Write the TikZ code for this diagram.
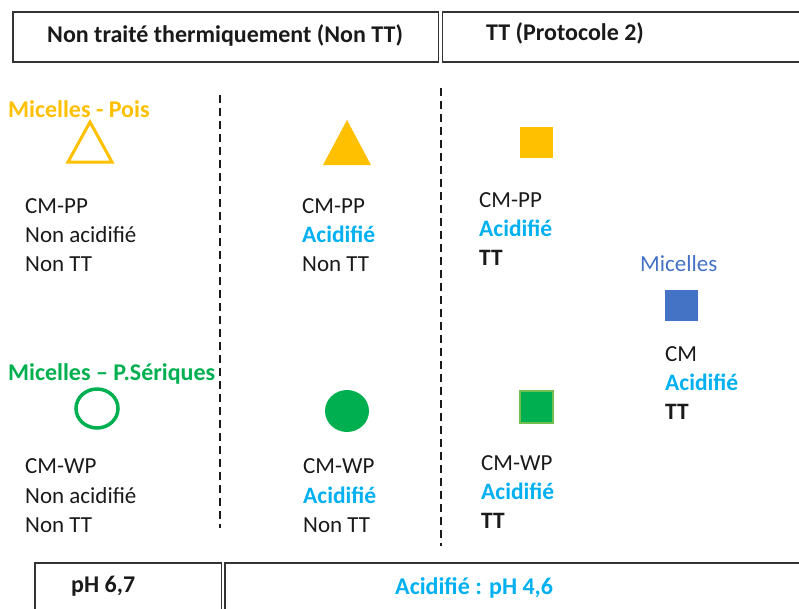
\documentclass[tikz,border=0pt]{standalone}
\usepackage{fontspec}
\setmainfont{Carlito}
\definecolor{orng}{HTML}{FFC000}
\definecolor{grn}{HTML}{00B050}
\definecolor{grnb}{HTML}{70BF50}
\definecolor{cyanb}{HTML}{00B0F0}
\definecolor{blu}{HTML}{4472C4}
\definecolor{txt}{HTML}{1A1A1A}
\definecolor{frame}{HTML}{333333}
\begin{document}
\begin{tikzpicture}[x=1pt,y=-1pt,
  boxl/.style={draw=frame,line width=1.4pt},
  dash line/.style={draw=txt,line width=2.2pt,dash pattern=on 8pt off 5pt},
  body/.style={font=\fontsize{23}{29}\selectfont,text=txt,anchor=base west,inner sep=0pt},
  acid/.style={body,text=cyanb,font=\fontsize{23.5}{29}\selectfont\bfseries},
  bold/.style={body,font=\fontsize{23.5}{29}\selectfont\bfseries},
  head/.style={font=\fontsize{24}{28}\selectfont\bfseries,text=txt,anchor=base west,inner sep=0pt}]
\useasboundingbox (0,0) rectangle (799,608);
% top boxes
\draw[boxl] (13,12) rectangle (438.5,62);
\draw[boxl] (442.5,12) rectangle (805,62);
\node[head] (t1) at (47,42) {Non traité thermiquement (Non TT)};
\node[head] (t2) at (486,40) {TT (Protocole 2)};
% bottom boxes
\draw[boxl] (35,563) rectangle (221.3,615);
\draw[boxl] (225,563) rectangle (805,615);
\node[head] (b1) at (71,592) {pH 6,7};
\node[head,text=cyanb] (b2) at (395,594) {Acidifié : pH 4,6};
% dashed separators
\coordinate (d1a) at (220,95); \coordinate (d1b) at (220,528);
\coordinate (d2a) at (441,88); \coordinate (d2b) at (441,546);
\draw[dash line] (d1a) -- (d1b);
\draw[dash line] (d2a) -- (d2b);
% column 1 top
\node[head,text=orng] (lp) at (8,117) {Micelles - Pois};
\draw[orng,line width=3pt,line join=miter] (90,122) -- (112,162) -- (68,162) -- cycle;
\node[body] (a1) at (25,213) {CM-PP};
\node[body] (a2) at (25,242) {Non acidifié};
\node[body] (a3) at (25,271) {Non TT};
% column 2 top
\fill[orng] (347,120) -- (371,165) -- (323,165) -- cycle;
\node[body] (c1) at (302,213) {CM-PP};
\node[acid] (c2) at (302,242) {Acidifié};
\node[body] (c3) at (302,271) {Non TT};
% column 3 top
\fill[orng] (520,127) rectangle (553,158);
\node[body] (e1) at (479,207) {CM-PP};
\node[acid] (e2) at (479,236) {Acidifié};
\node[bold] (e3) at (479,265) {TT};
% micelles
\node[head,text=blu,font=\fontsize{23}{26}\selectfont] (m) at (640,271) {Micelles};
\fill[blu] (665,290) rectangle (698,321);
\node[body] (m1) at (665,361) {CM};
\node[acid] (m2) at (665,390) {Acidifié};
\node[bold] (m3) at (665,419) {TT};
% column 1 bottom
\node[head,text=grn] (lw) at (8,380) {Micelles – P.Sériques};
\draw[grn,line width=3.5pt] (97,408.5) ellipse [x radius=21, y radius=19.5];
\node[body] (f1) at (25,473) {CM-WP};
\node[body] (f2) at (25,503) {Non acidifié};
\node[body] (f3) at (25,532) {Non TT};
% column 2 bottom
\fill[grn] (347,411) ellipse [x radius=22, y radius=21];
\node[body] (g1) at (303,473) {CM-WP};
\node[acid] (g2) at (303,503) {Acidifié};
\node[body] (g3) at (303,532) {Non TT};
% column 3 bottom
\fill[grn,draw=grnb,line width=1.5pt] (520,391) rectangle (553,423);
\node[body] (h1) at (481,470) {CM-WP};
\node[acid] (h2) at (481,499) {Acidifié};
\node[bold] (h3) at (481,528) {TT};
\end{tikzpicture}
\end{document}
